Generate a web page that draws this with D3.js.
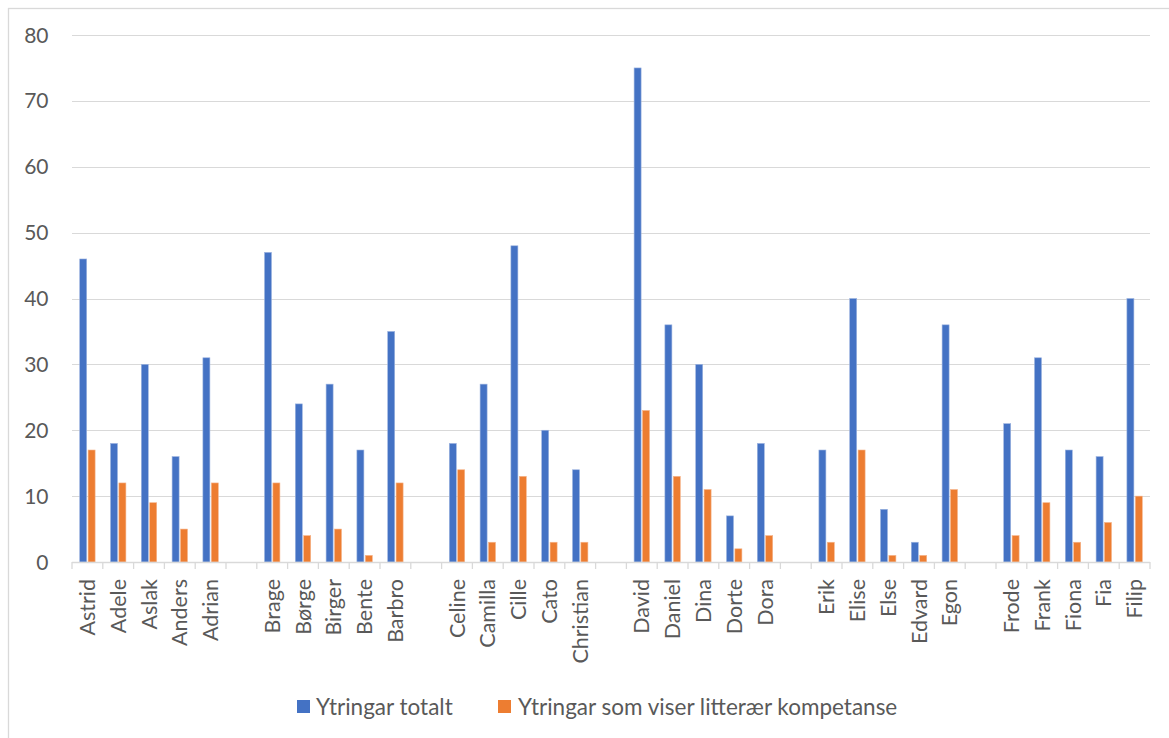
<!DOCTYPE html>
<html>
<head>
<meta charset="utf-8">
<script src="https://cdn.jsdelivr.net/npm/d3@7"></script>
<style>
  html, body { margin: 0; padding: 0; background: #fff; }
  svg { display: block; font-family: Lato, "Open Sans", sans-serif; }
</style>
</head>
<body>
<svg id="chart" width="1169" height="738"></svg>
<script>
// Categories ("" = empty spacer category between groups)
const categories = [
  "Astrid", "Adele", "Aslak", "Anders", "Adrian", "",
  "Brage", "Børge", "Birger", "Bente", "Barbro", "",
  "Celine", "Camilla", "Cille", "Cato", "Christian", "",
  "David", "Daniel", "Dina", "Dorte", "Dora", "",
  "Erik", "Elise", "Else", "Edvard", "Egon", "",
  "Frode", "Frank", "Fiona", "Fia", "Filip"
];
const totalt = [
  46, 18, 30, 16, 31, null,
  47, 24, 27, 17, 35, null,
  18, 27, 48, 20, 14, null,
  75, 36, 30, 7, 18, null,
  17, 40, 8, 3, 36, null,
  21, 31, 17, 16, 40
];
const litteraer = [
  17, 12, 9, 5, 12, null,
  12, 4, 5, 1, 12, null,
  14, 3, 13, 3, 3, null,
  23, 13, 11, 2, 4, null,
  3, 17, 1, 1, 11, null,
  4, 9, 3, 6, 10
];
const yTicks = [0, 10, 20, 30, 40, 50, 60, 70, 80];
const seriesNames = ["Ytringar totalt", "Ytringar som viser litterær kompetanse"];
const seriesColors = ["#4472C4", "#ED7D31"];

const svg = d3.select("#chart");

// chart border
svg.append("rect")
  .attr("x", 8.5).attr("y", 8.5)
  .attr("width", 1200).attr("height", 800)
  .attr("fill", "none").attr("stroke", "#D9D9D9").attr("stroke-width", 1.3);

const x = d3.scaleBand().domain(d3.range(categories.length)).range([72, 1150]).padding(0);
const y = d3.scaleLinear().domain([0, 80]).range([562, 35]);

// gridlines
svg.append("g").selectAll("line").data(yTicks.filter(d => d > 0)).join("line")
  .attr("x1", 72).attr("x2", 1150)
  .attr("y1", d => Math.round(y(d)) + 0.5).attr("y2", d => Math.round(y(d)) + 0.5)
  .attr("stroke", "#D9D9D9").attr("stroke-width", 1.2);

// y labels
svg.append("g").selectAll("text").data(yTicks).join("text")
  .attr("x", 48.5).attr("y", d => y(d))
  .attr("dy", "0.36em")
  .attr("text-anchor", "end")
  .attr("fill", "#595959")
  .attr("font-size", 21)
  .text(d => d);

// bars
const bw = 7, gap = 1.4;
const rows = categories.map((c, i) => ({ i, c, v: [totalt[i], litteraer[i]] }));
const seriesG = svg.append("g");
[0, 1].forEach(s => {
  seriesG.append("g").selectAll("rect")
    .data(rows.filter(r => r.v[s] != null)).join("rect")
    .attr("x", r => {
      const c = x(r.i) + x.bandwidth() / 2;
      return s === 0 ? c - gap / 2 - bw : c + gap / 2;
    })
    .attr("width", bw)
    .attr("y", r => y(r.v[s]))
    .attr("height", r => y(0) - y(r.v[s]))
    .attr("fill", seriesColors[s])
    .attr("stroke", s === 0 ? "#9DB4E0" : "#F5B48A")
    .attr("stroke-width", 0.6);
});

// x axis line + ticks
svg.append("line")
  .attr("x1", 72).attr("x2", 1150).attr("y1", 562.5).attr("y2", 562.5)
  .attr("stroke", "#D9D9D9").attr("stroke-width", 1.3);
const boundaries = d3.range(categories.length + 1).map(i => 72 + i * x.step());
svg.append("g").selectAll("line").data(boundaries).join("line")
  .attr("x1", d => d).attr("x2", d => d)
  .attr("y1", 562).attr("y2", 569)
  .attr("stroke", "#D9D9D9").attr("stroke-width", 1.3);

// category labels
svg.append("g").selectAll("text").data(rows.filter(r => r.c !== "")).join("text")
  .attr("transform", r => `translate(${x(r.i) + x.bandwidth() / 2 + 7.5},579) rotate(-90)`)
  .attr("text-anchor", "end")
  .attr("fill", "#595959")
  .attr("font-size", 21.5)
  .text(r => r.c);

// legend
const legendItems = [
  { name: seriesNames[0], color: seriesColors[0], sx: 297, tx: 316 },
  { name: seriesNames[1], color: seriesColors[1], sx: 498, tx: 518 }
];
const lg = svg.append("g");
legendItems.forEach(it => {
  lg.append("rect").attr("x", it.sx).attr("y", 700).attr("width", 13).attr("height", 13).attr("fill", it.color);
  lg.append("text").attr("x", it.tx).attr("y", 706.5).attr("dy", "0.36em")
    .attr("fill", "#595959").attr("font-size", 22.5).text(it.name);
});
</script>
</body>
</html>
